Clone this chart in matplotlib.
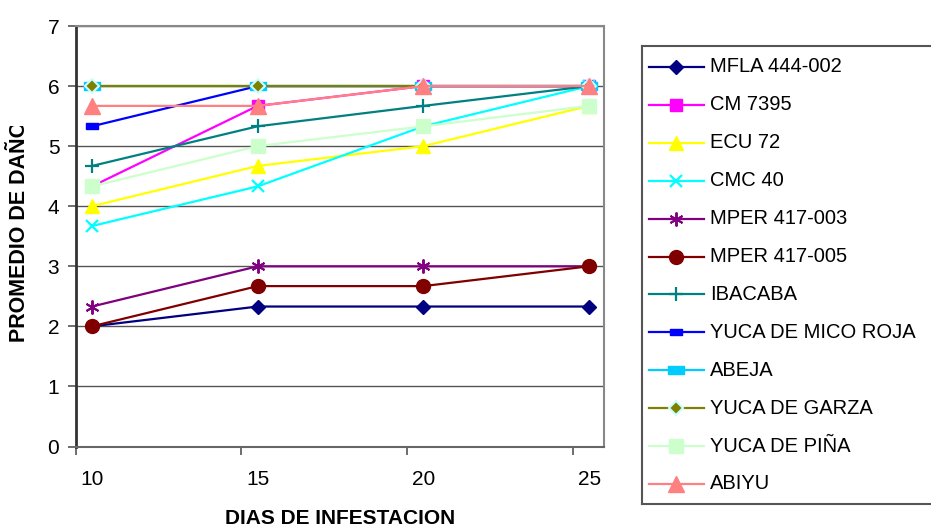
import matplotlib
matplotlib.use("Agg")
import matplotlib.pyplot as plt
from matplotlib.lines import Line2D
from matplotlib.transforms import Bbox, TransformedBbox

plt.rcParams['font.family'] = ['Liberation Sans', 'DejaVu Sans']

dias = [10, 15, 20, 25]

mfla_444_002 = [2.0, 2.33, 2.33, 2.33]
cm_7395 = [4.33, 5.67, 6.0, 6.0]
ecu_72 = [4.0, 4.67, 5.0, 5.67]
cmc_40 = [3.67, 4.33, 5.33, 6.0]
mper_417_003 = [2.33, 3.0, 3.0, 3.0]
mper_417_005 = [2.0, 2.67, 2.67, 3.0]
ibacaba = [4.67, 5.33, 5.67, 6.0]
yuca_mico_roja = [5.33, 6.0, 6.0, 6.0]
abeja = [6.0, 6.0, 6.0, 6.0]
yuca_garza = [6.0, 6.0, 6.0, 6.0]
yuca_pina = [4.33, 5.0, 5.33, 5.67]
abiyu = [5.67, 5.67, 6.0, 6.0]

series_names = ["MFLA 444-002", "CM 7395", "ECU 72", "CMC 40", "MPER 417-003",
                "MPER 417-005", "IBACABA", "YUCA DE MICO ROJA", "ABEJA",
                "YUCA DE GARZA", "YUCA DE PIÑA", "ABIYU"]
series_values = [mfla_444_002, cm_7395, ecu_72, cmc_40, mper_417_003,
                 mper_417_005, ibacaba, yuca_mico_roja, abeja,
                 yuca_garza, yuca_pina, abiyu]

# marker paths for flat rectangles
rect_wide = [(-1.6, -0.8), (1.6, -0.8), (1.6, 0.8), (-1.6, 0.8), (-1.6, -0.8)]
rect_small = [(-1.3, -0.8), (1.3, -0.8), (1.3, 0.8), (-1.3, 0.8), (-1.3, -0.8)]

styles = [
    dict(color="#000080", marker="D", ms=7, mfc="#000080", mec="#000080"),
    dict(color="#FF00FF", marker="s", ms=9, mfc="#FF00FF", mec="#FF00FF"),
    dict(color="#FFFF00", marker="^", ms=10, mfc="#FFFF00", mec="#FFFF00"),
    dict(color="#00FFFF", marker="x", ms=9, mfc="#00FFFF", mec="#00FFFF", mew=1.6),
    dict(color="#800080", marker=(6, 2, 0), ms=10, mfc="#800080", mec="#800080", mew=1.4),
    dict(color="#800000", marker="o", ms=10, mfc="#800000", mec="#800000"),
    dict(color="#008080", marker="+", ms=10, mfc="#008080", mec="#008080", mew=1.6),
    dict(color="#0000FF", marker=rect_small, ms=8, mfc="#0000FF", mec="#0000FF"),
    dict(color="#00CCFF", marker=rect_wide, ms=11, mfc="#00CCFF", mec="#00CCFF"),
    dict(color="#808000", marker="D", ms=7, mfc="#808000", mec="#CCFFFF", mew=1.5),
    dict(color="#CCFFCC", marker="s", ms=10, mfc="#CCFFCC", mec="#CCFFCC"),
    dict(color="#FF8080", marker="^", ms=11, mfc="#FF8080", mec="#FF8080"),
]

W, H = 931, 529
fig = plt.figure(figsize=(W / 100, H / 100), dpi=100)
ax = fig.add_axes([76 / W, 1 - 446.5 / H, (604 - 76) / W, (446.5 - 26) / H])

for name, vals, st in zip(series_names, series_values, styles):
    ax.plot(dias, vals, lw=1.6, label=name, clip_on=False, **st)

ax.set_ylim(0, 7)
ax.set_xlim(9.52, 25.45)
ax.set_yticks(range(0, 8))
ax.yaxis.grid(True, color="#555555", lw=1.0)
ax.set_axisbelow(True)

ax.set_xticks(dias)
ax.set_xticks([9.52, 14.5, 19.5, 24.5], minor=True)
ax.tick_params(axis="x", which="major", length=0, pad=17, labelsize=15)
ax.tick_params(axis="x", which="minor", length=6, width=1.2, color="#555555", direction="out")
ax.tick_params(axis="y", length=6, width=1.2, color="#555555", pad=6, labelsize=15)

for s in ["top", "right"]:
    ax.spines[s].set_color("#888888")
    ax.spines[s].set_linewidth(1.5)
ax.spines["left"].set_color("#333333")
ax.spines["left"].set_linewidth(2.0)
ax.spines["bottom"].set_color("#666666")
ax.spines["bottom"].set_linewidth(1.5)

fig.text(340 / W, 1 - 519 / H, "DIAS DE INFESTACION", ha="center", va="center",
         fontsize=15, fontweight="bold")

ylab = fig.text(20 / W, 1 - 342 / H, "PROMEDIO DE DAÑO", rotation=90,
                ha="center", va="bottom", fontsize=15.5, fontweight="bold")
ylab.set_clip_box(TransformedBbox(Bbox([[0, 0], [1, 1 - 126 / H]]), fig.transFigure))
ylab.set_clip_on(True)

# legend drawn in its own axes so the frame can run past the right edge
lax = fig.add_axes([642 / W, 1 - 504 / H, (960 - 642) / W, (504 - 46) / H])
lax.set_xlim(642, 960)
lax.set_ylim(504, 46)
lax.set_xticks([])
lax.set_yticks([])
for s in lax.spines.values():
    s.set_color("#555555")
    s.set_linewidth(1.5)
lax.spines["right"].set_visible(False)
row0, step = 67, 37.9
for i, (name, st) in enumerate(zip(series_names, styles)):
    y = row0 + i * step
    lax.add_line(Line2D([649, 704], [y, y], lw=1.6, color=st["color"]))
    mst = {k: v for k, v in st.items() if k != "color"}
    lax.add_line(Line2D([676], [y], lw=0, **mst))
    lax.text(710, y, name, ha="left", va="center", fontsize=14.5)

fig.savefig("out.png", dpi=100)
